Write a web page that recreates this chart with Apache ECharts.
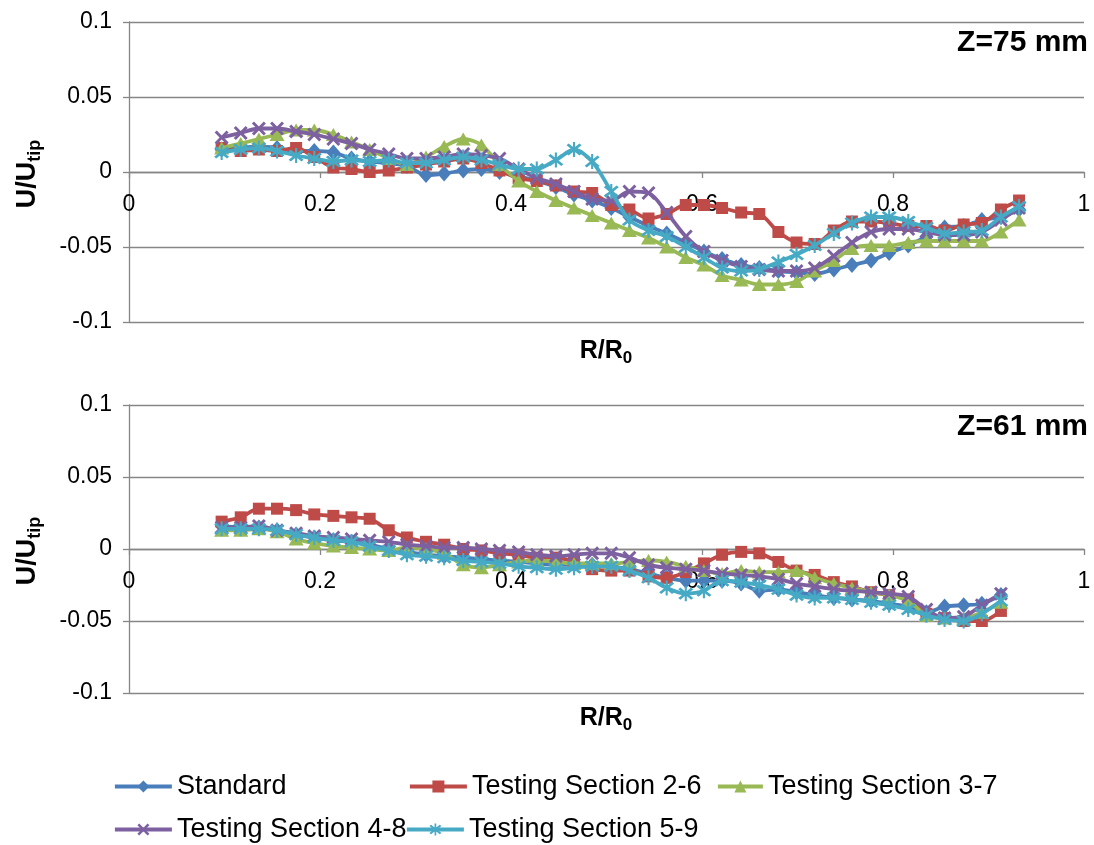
<!DOCTYPE html>
<html><head><meta charset="utf-8">
<script src="https://cdn.jsdelivr.net/npm/echarts@6/dist/echarts.min.js"></script>
<style>html,body{margin:0;padding:0;background:#fff}#c{width:1094px;height:845px}</style>
</head><body><div id="c"></div>
<script>
const seriesNames = ['Standard','Testing Section 2-6','Testing Section 3-7','Testing Section 4-8','Testing Section 5-9'];
const panelLabels = ['Z=75 mm','Z=61 mm'];
const xTicks = [0,0.2,0.4,0.6,0.8,1];
const yTicks = [-0.1,-0.05,0,0.05,0.1];

const xTop = [0.097,0.117,0.136,0.155,0.175,0.194,0.214,0.233,0.252,0.272,0.291,0.311,0.330,0.350,0.369,0.388,0.408,0.427,0.447,0.466,0.485,0.505,0.524,0.544,0.563,0.583,0.602,0.621,0.641,0.660,0.680,0.699,0.718,0.738,0.757,0.777,0.796,0.816,0.835,0.854,0.874,0.893,0.913,0.932];
const xBot = [0.097,0.117,0.136,0.155,0.175,0.194,0.214,0.233,0.252,0.272,0.291,0.311,0.330,0.350,0.369,0.388,0.408,0.427,0.447,0.466,0.485,0.505,0.524,0.544,0.563,0.583,0.602,0.621,0.641,0.660,0.680,0.699,0.718,0.738,0.757,0.777,0.796,0.816,0.835,0.854,0.874,0.893,0.913];

const stdTop = [0.015,0.016,0.017,0.016,0.014,0.014,0.013,0.009,0.007,0.006,0.004,-0.002,-0.001,0.001,0.002,0.000,-0.003,-0.006,-0.010,-0.015,-0.019,-0.024,-0.030,-0.036,-0.041,-0.047,-0.053,-0.058,-0.062,-0.064,-0.066,-0.067,-0.068,-0.065,-0.062,-0.059,-0.054,-0.049,-0.043,-0.037,-0.036,-0.032,-0.030,-0.025];
const s26Top = [0.016,0.014,0.015,0.014,0.016,0.010,0.003,0.002,0.000,0.001,0.003,0.005,0.007,0.009,0.006,0.001,-0.004,-0.006,-0.009,-0.013,-0.014,-0.022,-0.025,-0.031,-0.028,-0.022,-0.022,-0.024,-0.027,-0.028,-0.040,-0.047,-0.048,-0.039,-0.033,-0.033,-0.034,-0.036,-0.036,-0.039,-0.035,-0.034,-0.025,-0.019];
const s37Top = [0.016,0.019,0.022,0.025,0.028,0.028,0.025,0.020,0.015,0.009,0.005,0.010,0.017,0.022,0.018,0.005,-0.006,-0.013,-0.019,-0.024,-0.029,-0.034,-0.039,-0.044,-0.050,-0.057,-0.062,-0.069,-0.072,-0.075,-0.075,-0.073,-0.066,-0.059,-0.051,-0.049,-0.049,-0.047,-0.046,-0.046,-0.046,-0.046,-0.040,-0.032];
const s48Top = [0.023,0.026,0.029,0.029,0.027,0.025,0.022,0.019,0.015,0.012,0.009,0.009,0.010,0.012,0.011,0.009,0.002,-0.004,-0.008,-0.013,-0.018,-0.019,-0.013,-0.014,-0.027,-0.043,-0.053,-0.059,-0.063,-0.065,-0.066,-0.066,-0.064,-0.056,-0.047,-0.040,-0.038,-0.038,-0.040,-0.042,-0.042,-0.040,-0.032,-0.024];
const s59Top = [0.013,0.015,0.016,0.014,0.011,0.009,0.007,0.008,0.007,0.008,0.006,0.006,0.008,0.010,0.008,0.005,0.002,0.002,0.008,0.015,0.007,-0.013,-0.032,-0.039,-0.043,-0.050,-0.057,-0.064,-0.066,-0.065,-0.060,-0.055,-0.049,-0.041,-0.034,-0.030,-0.030,-0.033,-0.037,-0.041,-0.040,-0.039,-0.030,-0.023];

const stdBot = [0.016,0.015,0.015,0.013,0.010,0.008,0.006,0.005,0.003,0.000,-0.002,-0.004,-0.005,-0.006,-0.007,-0.008,-0.009,-0.010,-0.011,-0.011,-0.011,-0.012,-0.014,-0.017,-0.020,-0.022,-0.022,-0.022,-0.024,-0.029,-0.028,-0.030,-0.032,-0.034,-0.035,-0.036,-0.038,-0.040,-0.044,-0.040,-0.039,-0.038,-0.032];
const s26Bot = [0.019,0.022,0.028,0.028,0.027,0.024,0.023,0.022,0.021,0.013,0.008,0.005,0.003,0.000,-0.001,-0.003,-0.004,-0.006,-0.006,-0.009,-0.014,-0.015,-0.015,-0.019,-0.020,-0.016,-0.010,-0.004,-0.002,-0.003,-0.009,-0.015,-0.018,-0.023,-0.026,-0.030,-0.032,-0.035,-0.045,-0.048,-0.050,-0.050,-0.043];
const s37Bot = [0.013,0.013,0.014,0.012,0.007,0.004,0.002,0.001,0.000,-0.001,0.001,0.000,-0.003,-0.011,-0.013,-0.011,-0.009,-0.008,-0.009,-0.010,-0.010,-0.010,-0.009,-0.008,-0.009,-0.012,-0.015,-0.017,-0.015,-0.016,-0.016,-0.015,-0.020,-0.024,-0.027,-0.030,-0.032,-0.036,-0.046,-0.048,-0.048,-0.044,-0.037];
const s48Bot = [0.015,0.015,0.016,0.013,0.011,0.009,0.008,0.007,0.006,0.005,0.003,0.002,0.001,0.001,0.000,-0.001,-0.002,-0.004,-0.005,-0.004,-0.003,-0.003,-0.006,-0.011,-0.013,-0.014,-0.015,-0.017,-0.018,-0.019,-0.021,-0.024,-0.026,-0.028,-0.029,-0.030,-0.031,-0.033,-0.042,-0.048,-0.047,-0.039,-0.031];
const s59Bot = [0.014,0.014,0.014,0.013,0.010,0.008,0.006,0.005,0.002,-0.001,-0.004,-0.005,-0.006,-0.008,-0.009,-0.010,-0.012,-0.013,-0.014,-0.013,-0.012,-0.012,-0.015,-0.020,-0.027,-0.031,-0.029,-0.022,-0.023,-0.025,-0.028,-0.032,-0.034,-0.034,-0.035,-0.037,-0.039,-0.042,-0.046,-0.049,-0.050,-0.045,-0.036];

const FONT = '"Liberation Sans", Arial, sans-serif';
const colors = ['#4A7EBB','#BE4B48','#98B954','#7D60A0','#46AAC5'];
const xPath = 'path://M0,1.5 L1.5,0 L5,3.5 L8.5,0 L10,1.5 L6.5,5 L10,8.5 L8.5,10 L5,6.5 L1.5,10 L0,8.5 L3.5,5 Z';
const starPath = 'path://M0,1.4 L1.4,0 L5,3.6 L8.6,0 L10,1.4 L6.4,5 L10,8.6 L8.6,10 L5,6.4 L1.4,10 L0,8.6 L3.6,5 Z M4.3,-1.2 L5.7,-1.2 L5.7,11.2 L4.3,11.2 Z';
const symbols = ['diamond','rect','triangle',xPath,starPath];
const sizes = [[14,16],12,[15,13],14,15];

function pairs(xs, ys){ return xs.map((x,i)=>[x, ys[i]]); }
const topSets = [stdTop,s26Top,s37Top,s48Top,s59Top];
const botSets = [stdBot,s26Bot,s37Bot,s48Bot,s59Bot];

const series = [];
[[xTop, topSets, 0],[xBot, botSets, 1]].forEach(([xs, sets, g])=>{
  sets.forEach((ys, k)=>{
    series.push({
      type:'line', name: seriesNames[k], xAxisIndex:g, yAxisIndex:g,
      data: pairs(xs, ys), smooth:0.3, symbol: symbols[k], symbolSize: sizes[k],
      showAllSymbol:true, lineStyle:{width:3.8, color:colors[k]},
      itemStyle:{color:colors[k]}, z: 2+k, emphasis:{disabled:true}
    });
  });
});

function xAxis(g, off){
  return {
    gridIndex:g, type:'value', position:'bottom', offset:off,
    min:xTicks[0], max:xTicks[xTicks.length-1], interval:0.2,
    axisLine:{onZero:false, lineStyle:{color:'#868686', width:1.3}},
    axisTick:{show:true, inside:false, length:6, lineStyle:{color:'#868686', width:1.3}},
    axisLabel:{margin:21, fontSize:23, color:'#000', fontFamily:FONT},
    splitLine:{show:false}
  };
}
function yAxis(g){
  return {
    gridIndex:g, type:'value', min:yTicks[0], max:yTicks[yTicks.length-1], interval:0.05,
    axisLine:{show:true, onZero:false, lineStyle:{color:'#868686', width:1.3}},
    axisTick:{show:true, length:6, lineStyle:{color:'#868686', width:1.3}},
    axisLabel:{margin:17, fontSize:23, color:'#000', fontFamily:FONT},
    splitLine:{show:true, lineStyle:{color:'#868686', width:1.3}}
  };
}

function legend(name, left, top, w){
  return {left, top, padding:0, itemWidth:w || 57, itemHeight:15, itemGap:0, selectedMode:false,
    lineStyle:{width:3.8},
    textStyle:{fontSize:27, color:'#000', fontFamily:FONT}, data:[name]};
}

const titleRich = {
  a:{fontSize:25, fontWeight:'bold', fill:'#000', fontFamily:FONT},
  b:{fontSize:17, fontWeight:'bold', fill:'#000', fontFamily:FONT, padding:[14,0,0,0]}
};
const yRich = {
  a:{fontSize:27, fontWeight:'bold', fill:'#000', fontFamily:FONT},
  b:{fontSize:18, fontWeight:'bold', fill:'#000', fontFamily:FONT, padding:[15,0,0,0]}
};
function xTitle(y){ return {type:'text', x:606, y, style:{text:'{a|R/R}{b|0}', rich:titleRich, align:'center', verticalAlign:'middle'}}; }
function yTitle(y){ return {type:'text', x:28, y, rotation:Math.PI/2, style:{text:'{a|U/U}{b|tip}', rich:yRich, align:'center', verticalAlign:'middle'}}; }

const option = {
  animation:false,
  backgroundColor:'#fff',
  grid:[{left:129, right:10, top:22, height:300, outerBoundsMode:'none'},
        {left:129, right:10, top:405, height:288, outerBoundsMode:'none'}],
  xAxis:[xAxis(0,-150), xAxis(1,-144)],
  yAxis:[yAxis(0), yAxis(1)],
  legend:[
    legend(seriesNames[0],113,773), legend(seriesNames[1],408,773), legend(seriesNames[2],716,773,45),
    legend(seriesNames[3],113,816), legend(seriesNames[4],405,816)
  ],
  graphic:[
    {type:'text', right:6, top:28, style:{text:panelLabels[0], font:'bold 30px "Liberation Sans", Arial', fill:'#000'}},
    {type:'text', right:6, top:412, style:{text:panelLabels[1], font:'bold 30px "Liberation Sans", Arial', fill:'#000'}},
    xTitle(351), xTitle(718), yTitle(174), yTitle(551)
  ],
  series
};
const chart = echarts.init(document.getElementById('c'), null, {renderer:'canvas'});
chart.setOption(option);
</script></body></html>
